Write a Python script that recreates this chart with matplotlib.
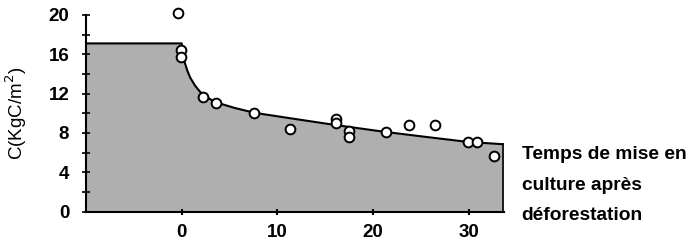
import numpy as np
import matplotlib
matplotlib.use("Agg")
import matplotlib.pyplot as plt

plt.rcParams['font.family'] = ['Liberation Sans', 'DejaVu Sans']

# observed soil carbon (open circles)
obs_t = [-0.4, -0.1, -0.1, 2.2, 3.6, 7.6, 11.3, 16.1, 16.1, 17.5, 17.5,
         21.3, 23.7, 26.5, 29.9, 30.8, 32.6]
obs_c = [20.2, 16.4, 15.7, 11.7, 11.0, 10.0, 8.4, 9.4, 9.0, 8.2, 7.6,
         8.1, 8.8, 8.8, 7.05, 7.05, 5.7]

# fitted curve (forest plateau then decline)
curve_t = [-10, 0, 0.1, 0.3, 0.6, 0.9, 1.4, 1.9, 2.5, 3.3, 4.3, 5.5, 7.6,
           11.3, 16.1, 21.3, 25.5, 29.8, 33.6]
curve_c = [17.1, 17.1, 16.3, 15.2, 14.3, 13.6, 12.8, 12.2, 11.7, 11.25,
           10.9, 10.55, 10.05, 9.5, 8.8, 8.1, 7.6, 7.1, 6.85]

fig = plt.figure(figsize=(6.88, 2.40), dpi=100)
ax = fig.add_axes([0.125, 0.118, 0.608, 0.82])

ax.fill_between(curve_t, 0, curve_c, color='#afafaf', lw=0)
ax.plot(curve_t, curve_c, color='black', lw=1.5)
ax.plot([curve_t[-1], curve_t[-1]], [0, curve_c[-1]], color='black', lw=1.2)
ax.plot(obs_t, obs_c, 'o', mfc='white', mec='black', mew=1.4, ms=7,
        clip_on=False, zorder=5)

ax.set_xlim(-10, 33.7)
ax.set_ylim(0, 20)
for s in ['top', 'right']:
    ax.spines[s].set_visible(False)
ax.spines['left'].set_linewidth(1.5)
ax.spines['bottom'].set_linewidth(1.5)

ax.set_yticks(np.arange(0, 21, 4))
ax.set_yticks(np.arange(0, 21, 2), minor=True)
ax.set_xticks([0, 10, 20, 30])
ax.tick_params(axis='y', which='both', direction='inout', length=6, width=1.2)
ax.tick_params(axis='y', pad=9, labelsize=13.5)
ax.tick_params(axis='x', direction='inout', length=4, width=1.5, pad=7,
               labelsize=13.5)
for lab in ax.get_xticklabels() + ax.get_yticklabels():
    lab.set_fontweight('bold')

ax.set_ylabel('C(KgC/m$^2$)', fontsize=13.5, labelpad=14)

fig.text(0.758, 0.229, 'Temps de mise en\nculture après\ndéforestation',
         fontsize=13.8, fontweight='bold', va='center', ha='left',
         linespacing=2.05)

fig.savefig('out.png', dpi=100)
